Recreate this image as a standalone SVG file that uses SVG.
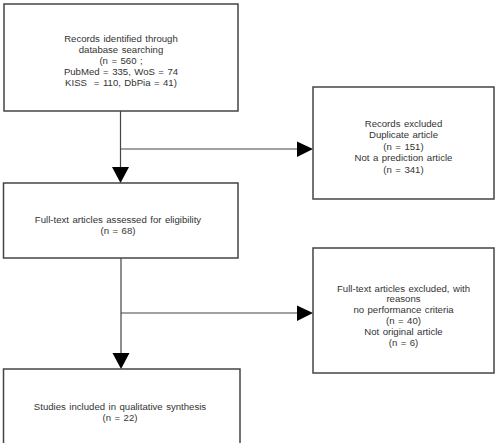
<svg xmlns="http://www.w3.org/2000/svg" width="495" height="443" viewBox="0 0 495 443">
<defs>
<style>
.box{fill:#fff;stroke:#444;stroke-width:1.5}
.t{font-family:"Liberation Sans",Arial,sans-serif;font-size:9.6px;fill:#333;text-anchor:middle;word-spacing:0.8px}
.ln{stroke:#444;stroke-width:1.2;fill:none}
.ah{fill:#000}
</style>
</defs>
<rect width="495" height="443" fill="#fff"/>
<g id="connectors">
<line class="ln" x1="120.5" y1="111" x2="120.5" y2="168"/>
<line class="ln" x1="120.5" y1="149" x2="298" y2="149"/>
<polygon class="ah" points="112,167 129,167 120.5,183"/>
<polygon class="ah" points="297,141.5 313,149 297,157"/>
<line class="ln" x1="121" y1="258" x2="121" y2="354"/>
<line class="ln" x1="121" y1="313" x2="298" y2="313"/>
<polygon class="ah" points="112.5,353 129.5,353 121,369"/>
<polygon class="ah" points="297,305.5 313,313 297,321"/>
</g>
<g id="n1">
<rect class="box" x="4" y="4" width="234" height="107"/>
<text class="t" x="121" y="41.5">Records identified through</text>
<text class="t" x="121" y="52.5">database searching</text>
<text class="t" x="121" y="63.5">(n = 560 ;</text>
<text class="t" x="121" y="74.5">PubMed = 335, WoS = 74</text>
<text class="t" x="121" y="85.5">KISS &#160;= 110, DbPia = 41)</text>
</g>
<g id="n2">
<rect class="box" x="313" y="87" width="181" height="112"/>
<text class="t" x="403.5" y="126.5">Records excluded</text>
<text class="t" x="403.5" y="138">Duplicate article</text>
<text class="t" x="403.5" y="149.5">(n = 151)</text>
<text class="t" x="403.5" y="161">Not a prediction article</text>
<text class="t" x="403.5" y="172.5">(n = 341)</text>
</g>
<g id="n3">
<rect class="box" x="3.5" y="183" width="234.5" height="75"/>
<text class="t" x="118" y="222.5">Full-text articles assessed for eligibility</text>
<text class="t" x="118" y="233.5">(n = 68)</text>
</g>
<g id="n4">
<rect class="box" x="313" y="248" width="181" height="125"/>
<text class="t" x="403.5" y="291.5">Full-text articles excluded, with</text>
<text class="t" x="403.5" y="302.3">reasons</text>
<text class="t" x="403.5" y="313.1">no performance criteria</text>
<text class="t" x="403.5" y="323.9">(n = 40)</text>
<text class="t" x="403.5" y="334.7">Not original article</text>
<text class="t" x="403.5" y="345.5">(n = 6)</text>
</g>
<g id="n5">
<rect class="box" x="3.5" y="369" width="236.5" height="80"/>
<text class="t" x="120" y="409.5">Studies included in qualitative synthesis</text>
<text class="t" x="120" y="420.5">(n = 22)</text>
</g>
</svg>
